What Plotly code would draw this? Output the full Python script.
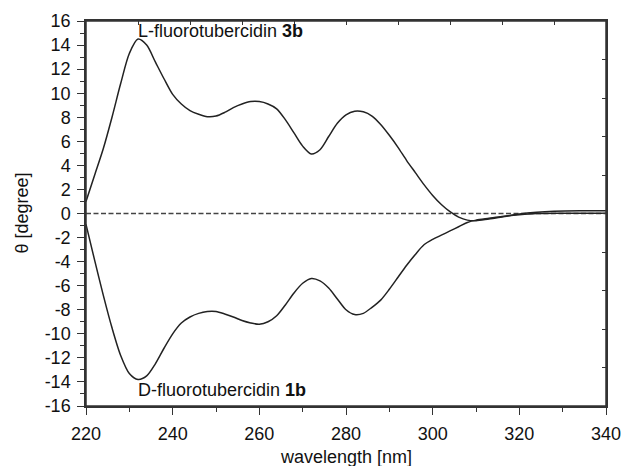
import plotly.graph_objects as go

# wavelength (nm) and ellipticity (degree)
wl_L = [220, 222, 224, 226, 228, 230, 232, 234, 236, 238, 240, 242, 244, 246, 248, 250,
        252, 254, 256, 258, 260, 262, 264, 266, 268, 270, 272, 274, 276, 278, 280, 282,
        284, 286, 288, 290, 292, 294, 296, 298, 300, 302, 304, 306, 308, 310, 313, 316,
        320, 324, 328, 334, 340]
theta_L = [1.0, 3.2, 5.4, 8.0, 10.8, 13.3, 14.5, 14.0, 12.6, 11.2, 9.9, 9.1, 8.55, 8.25, 8.05, 8.1,
           8.4, 8.8, 9.1, 9.3, 9.3, 9.1, 8.7, 7.8, 6.7, 5.6, 4.95, 5.3, 6.4, 7.5, 8.2, 8.5,
           8.45, 8.1, 7.4, 6.5, 5.5, 4.4, 3.4, 2.4, 1.5, 0.75, 0.15, -0.3, -0.55, -0.6, -0.45, -0.3,
           -0.05, 0.1, 0.18, 0.22, 0.22]

wl_D = [220, 222, 224, 226, 228, 230, 232, 234, 236, 238, 240, 242, 244, 246, 248, 250,
        252, 254, 256, 258, 260, 262, 264, 266, 268, 270, 272, 274, 276, 278, 280, 282,
        284, 286, 288, 290, 292, 294, 296, 298, 300, 302, 304, 306, 308, 310, 313, 316,
        320, 324, 330, 340]
theta_D = [-0.9, -3.9, -6.8, -9.5, -11.8, -13.3, -13.8, -13.5, -12.5, -11.2, -10.0, -9.1, -8.6, -8.3, -8.15, -8.15,
           -8.35, -8.6, -8.9, -9.1, -9.2, -9.0, -8.5, -7.6, -6.6, -5.8, -5.4, -5.6, -6.2, -7.1, -8.0, -8.4,
           -8.3, -7.8, -7.2, -6.3, -5.3, -4.3, -3.4, -2.6, -2.15, -1.8, -1.45, -1.1, -0.75, -0.55, -0.4, -0.25,
           -0.1, 0.0, 0.02, 0.02]

x_ticks = [220, 240, 260, 280, 300, 320, 340]
y_ticks = list(range(-16, 17, 2))
y_ticktext = [str(v) for v in y_ticks]
top_ticks = [220 + 12 * i for i in range(11)]
right_ticks = [-16 + 3.2 * i for i in range(11)]

label_L = "L-fluorotubercidin <b>3b</b>"
label_D = "D-fluorotubercidin <b>1b</b>"

FONT = "Liberation Sans, Arial, Helvetica, sans-serif"
LINE = "#222222"
AX = "#333333"

fig = go.Figure()
fig.add_trace(go.Scatter(x=wl_L, y=theta_L, mode="lines",
                         line=dict(color=LINE, width=1.5, shape="spline", smoothing=0.8),
                         showlegend=False, hoverinfo="skip"))
fig.add_trace(go.Scatter(x=wl_D, y=theta_D, mode="lines",
                         line=dict(color=LINE, width=1.5, shape="spline", smoothing=0.8),
                         showlegend=False, hoverinfo="skip"))
# invisible copy so the mirror (top/right) axes are drawn
fig.add_trace(go.Scatter(x=wl_L, y=theta_L, xaxis="x2", yaxis="y2", mode="lines",
                         line=dict(width=0, color="rgba(0,0,0,0)"), opacity=0,
                         showlegend=False, hoverinfo="skip"))

fig.add_shape(type="line", xref="paper", x0=0, x1=1, yref="y", y0=0, y1=0,
              line=dict(color="#444444", width=1.5, dash="5px,2.5px"), layer="below")
# plot frame
fig.add_shape(type="rect", xref="paper", yref="paper", x0=0, x1=1, y0=0, y1=1,
              line=dict(color=AX, width=1.5), fillcolor="rgba(0,0,0,0)", layer="above")

fig.add_annotation(x=231.5, y=15.2, xref="x", yref="y", text=label_L, showarrow=False,
                   xanchor="left", yanchor="middle", font=dict(family=FONT, size=18, color="#111"))
fig.add_annotation(x=231.5, y=-14.7, xref="x", yref="y", text=label_D, showarrow=False,
                   xanchor="left", yanchor="middle", font=dict(family=FONT, size=18, color="#111"))

fig.add_annotation(x=-0.125, y=0.5, xref="paper", yref="paper", text="θ [degree]", showarrow=False,
                   textangle=-90, xanchor="center", yanchor="middle",
                   font=dict(family=FONT, size=18, color="#111"))
fig.add_annotation(x=0.5, y=-0.1325, xref="paper", yref="paper", text="wavelength [nm]", showarrow=False,
                   xanchor="center", yanchor="middle",
                   font=dict(family=FONT, size=18, color="#111"))

fig.update_layout(
    width=623, height=466, autosize=False,
    margin=dict(l=86, r=17, t=21, b=60, autoexpand=False),
    paper_bgcolor="white", plot_bgcolor="white",
    font=dict(family=FONT, size=18, color="#111"),
    xaxis=dict(range=[220, 340], tickmode="array", tickvals=x_ticks, automargin=False,
               ticks="outside", ticklen=7, tickwidth=1.3, tickcolor=AX, ticklabelstandoff=4,
               showline=True, linecolor=AX, linewidth=1.5, showgrid=False, zeroline=False,
               minor=dict(ticks="outside", ticklen=4, tickwidth=1, tickcolor=AX, dtick=10, showgrid=False),
               tickfont=dict(family=FONT, size=18, color="#111")),
    yaxis=dict(range=[-16, 16], tickmode="array", tickvals=y_ticks, ticktext=y_ticktext, automargin=False,
               ticks="outside", ticklen=7, tickwidth=1.3, tickcolor=AX, ticklabelstandoff=3,
               showline=True, linecolor=AX, linewidth=1.5, showgrid=False, zeroline=False,
               minor=dict(ticks="outside", ticklen=4, tickwidth=1, tickcolor=AX, dtick=1, showgrid=False),
               tickfont=dict(family=FONT, size=18, color="#111")),
    xaxis2=dict(range=[220, 340], overlaying="x", side="top", anchor="y", automargin=False,
                tickmode="array", tickvals=top_ticks, ticks="inside", ticklen=4, tickwidth=1,
                tickcolor=AX, showticklabels=False, showline=True, linecolor=AX, linewidth=1.5,
                showgrid=False, zeroline=False),
    yaxis2=dict(range=[-16, 16], overlaying="y", side="right", anchor="x", automargin=False,
                tickmode="array", tickvals=right_ticks, ticks="inside", ticklen=4, tickwidth=1,
                tickcolor=AX, showticklabels=False, showline=True, linecolor=AX, linewidth=1.5,
                showgrid=False, zeroline=False),
)

fig.write_html("out.html")
